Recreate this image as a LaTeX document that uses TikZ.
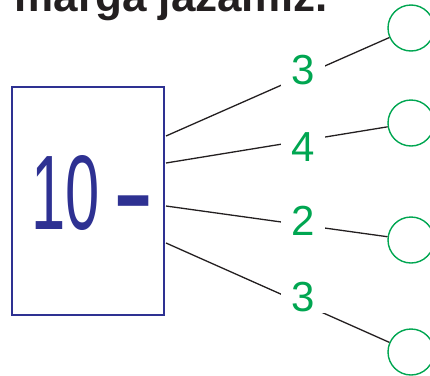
\documentclass[tikz,border=0pt]{standalone}
\usepackage{fontspec}
\setmainfont{Liberation Sans}
\definecolor{boxblue}{HTML}{2E3192}
\definecolor{digitgreen}{HTML}{00A651}
\definecolor{inkgray}{HTML}{231F20}
\tikzset{
  ring/.style = {circle, draw = digitgreen, line width = 1.4pt, minimum size = 46pt, inner sep = 0pt},
  lab/.style = {text = digitgreen, fill = white, inner xsep = 10pt, inner ysep = 1pt, font = \fontsize{42}{42}\selectfont},
  branch/.style = {draw = inkgray, line width = 1.3pt}
}
\begin{document}
\begin{tikzpicture}[yscale = -1, x = 1pt, y = 1pt]
\useasboundingbox (0,0) rectangle (430,375);
% heading line, cut by the top edge
\node[anchor = base west, inner sep = 0pt, text = inkgray, font = \fontsize{44}{44}\selectfont\bfseries] (head) at (-37,11) {ni marga jazamiz.};
% the box with the expression
\node[draw = boxblue, line width = 1.4pt, minimum width = 152pt, minimum height = 228pt, inner sep = 0pt] (box) at (88,201) {};
\node[anchor = base west, inner sep = 0pt, text = boxblue, font = \fontsize{106}{106}\selectfont] (expr) at (31,229) {\scalebox{0.58}[1]{10 {\bfseries –}}};
% branches to the empty circles
\foreach \i/\cy/\by in {1/28/136, 2/123/163, 3/240/206, 4/352/243}
{
\node[ring] (c\i) at (411,\cy) {};
\coordinate (b\i) at (166,\by);
\draw[branch] (b\i) -- (c\i);
}
\foreach \i/\ly/\n in {1/70/3, 2/147/4, 3/221/2, 4/297/3}
{
\node[lab] (l\i) at (303,\ly) {\n};
}
\end{tikzpicture}
\end{document}
